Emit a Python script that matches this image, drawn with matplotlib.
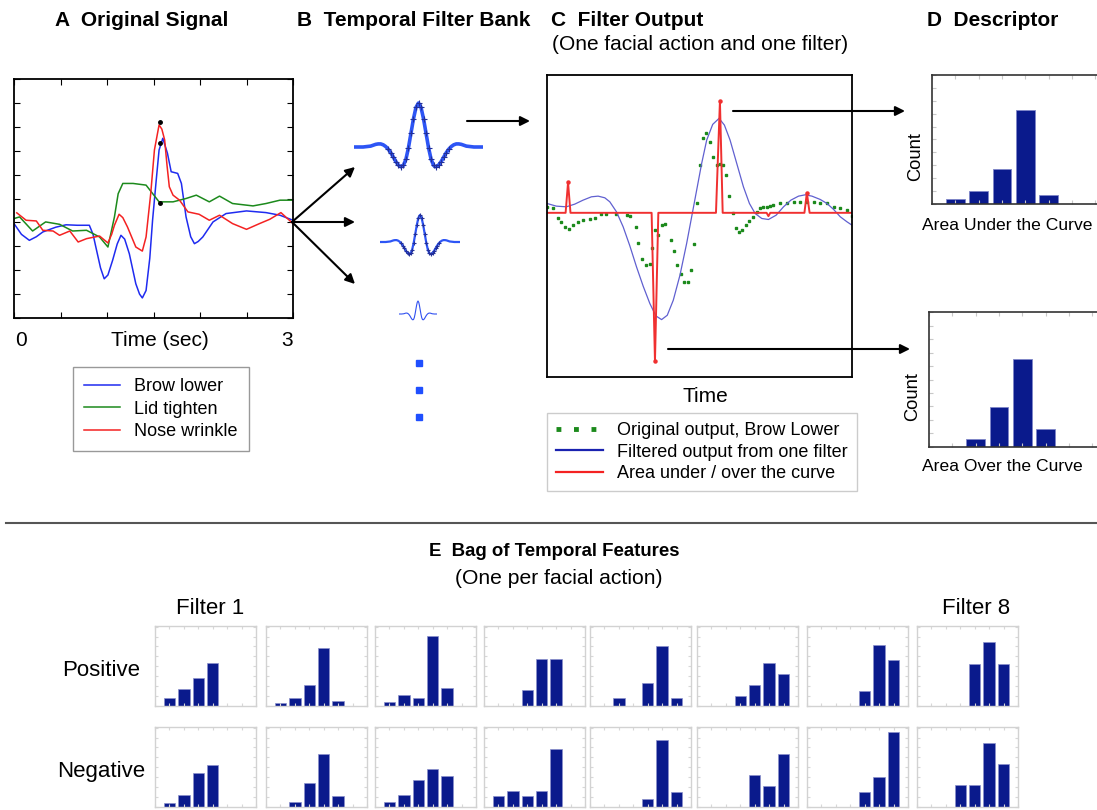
import matplotlib
matplotlib.use("Agg")
import matplotlib.pyplot as plt
from matplotlib.lines import Line2D
from matplotlib.patches import FancyArrowPatch

plt.rcParams['font.family'] = ['Liberation Sans', 'DejaVu Sans']

W, H = 1097, 810

# ---- A: original signal (time in sec, arbitrary units) ----
brow_t = [0.0, 0.08, 0.165, 0.24, 0.31, 0.45, 0.56, 0.68, 0.81, 0.85, 0.88, 0.93, 0.97, 1.01, 1.06,
          1.11, 1.15, 1.19, 1.24, 1.31, 1.35, 1.38, 1.42, 1.46, 1.49, 1.53, 1.56, 1.60, 1.65, 1.69,
          1.76, 1.80, 1.85, 1.90, 1.94, 1.98, 2.03, 2.14, 2.28, 2.50, 2.71, 2.86, 3.0]
brow_y = [3.95, 3.5, 3.25, 3.4, 3.6, 3.8, 3.9, 3.88, 3.88, 3.5, 2.97, 2.1, 1.64, 1.8, 2.41,
          3.1, 3.46, 3.3, 2.69, 1.43, 1.0, 0.84, 1.15, 2.5, 4.09, 5.8, 7.03, 7.52, 6.89, 6.12,
          6.05, 5.63, 4.23, 3.4, 3.11, 3.2, 3.39, 4.02, 4.37, 4.48, 4.41, 4.30, 4.09]
lid_t = [0.0, 0.06, 0.2, 0.34, 0.49, 0.63, 0.78, 0.92, 1.01, 1.08, 1.12, 1.17, 1.28, 1.42, 1.49,
         1.56, 1.71, 1.85, 1.96, 2.10, 2.21, 2.35, 2.57, 2.71, 2.86, 3.0]
lid_y = [4.16, 4.23, 3.64, 4.02, 3.92, 3.64, 3.67, 3.39, 2.97, 4.23, 5.2, 5.63, 5.63, 5.56, 5.21,
         4.86, 4.86, 5.0, 5.14, 4.86, 5.1, 4.79, 4.69, 4.79, 4.93, 4.93]
nose_t = [0.03, 0.13, 0.24, 0.31, 0.42, 0.49, 0.60, 0.69, 0.78, 0.92, 1.01, 1.05, 1.08, 1.13, 1.17,
          1.22, 1.31, 1.38, 1.42, 1.47, 1.51, 1.56, 1.59, 1.62, 1.645, 1.67, 1.71, 1.78, 1.87, 1.99,
          2.10, 2.21, 2.35, 2.50, 2.64, 2.75, 2.87, 3.0]
nose_y = [4.40, 4.09, 4.06, 3.67, 3.64, 3.46, 3.64, 3.18, 3.32, 3.43, 3.14, 3.5, 3.88, 4.34, 4.2,
          3.81, 2.97, 2.80, 3.39, 5.2, 7.03, 8.08, 7.9, 7.45, 6.4, 5.49, 5.14, 4.93, 4.44, 4.34,
          4.09, 4.30, 3.95, 3.71, 3.95, 4.13, 4.41, 3.95]
peak_t = [1.57, 1.57, 1.57]
peak_y = [8.18, 7.31, 4.83]
signal_names = ['Brow lower', 'Lid tighten', 'Nose wrinkle']

# ---- B: temporal filter shape ----
filt_t = [-6.4, -5.5, -4.75, -4.5, -4.25, -4.0, -3.75, -3.5, -3.25, -3.0, -2.75, -2.5, -2.25, -2.0,
          -1.75, -1.5, -1.25, -1.0, -0.75, -0.5, -0.25, 0.0, 0.25, 0.5, 0.75, 1.0, 1.25, 1.5, 1.75,
          2.0, 2.25, 2.5, 2.75, 3.0, 3.25, 3.5, 3.75, 4.0, 4.25, 4.5, 4.75, 5.5, 6.4]
filt_v = [0.0, 0.0, 0.02, 0.04, 0.06, 0.07, 0.07, 0.05, 0.01, -0.05, -0.13, -0.23, -0.33, -0.41,
          -0.45, -0.42, -0.28, -0.02, 0.31, 0.64, 0.90, 1.0, 0.90, 0.64, 0.31, -0.02, -0.28, -0.42,
          -0.45, -0.41, -0.33, -0.23, -0.13, -0.05, 0.01, 0.05, 0.07, 0.07, 0.06, 0.04, 0.02, 0.0, 0.0]
more_rows = [1, 2, 3]

# ---- C: filter output ----
filt_out_t = [0, 3.07, 6.35, 9.09, 11.83, 14.57, 16.76, 18.95, 20.59, 22.78, 24.97, 27.16, 29.35,
              31.54, 33.73, 35.71, 37.57, 39.43, 41.40, 43.59, 45.78, 47.43, 49.07, 50.71, 52.36,
              54.33, 56.41, 58.16, 60.02, 62.21, 64.40, 66.37, 68.24, 70.43, 72.62, 75.14, 77.55,
              79.96, 82.47, 84.67, 86.86, 89.59, 91.79, 93.98, 96.17, 98.36, 100]
filt_out_y = [0.28, 0.20, 0.18, 0.26, 0.38, 0.48, 0.50, 0.45, 0.33, 0.03, -0.42, -0.99, -1.62,
              -2.20, -2.72, -3.09, -3.20, -3.07, -2.62, -1.87, -0.92, -0.12, 0.68, 1.48, 2.18,
              2.65, 2.83, 2.63, 2.18, 1.48, 0.78, 0.28, -0.02, -0.17, -0.20, -0.07, 0.18,
              0.38, 0.50, 0.54, 0.50, 0.40, 0.28, 0.10, -0.12, -0.27, -0.37]
orig_t = [0, 1.97, 3.61, 4.71, 5.8, 7.23, 8.54, 10.19, 11.83, 14.02, 15.66, 17.85, 19.5, 22.78,
          26.07, 27.16, 29.13, 29.9, 31.0, 32.42, 33.73, 34.5, 35.38, 36.47, 37.57, 38.66, 40.64,
          41.73, 42.72, 43.81, 44.91, 46.11, 47.21, 48.19, 49.29, 50.16, 51.26, 52.14, 53.45, 54.55,
          55.64, 56.74, 57.83, 58.71, 59.80, 60.90, 61.99, 62.98, 64.07, 65.17, 66.37, 67.69, 68.78,
          69.88, 70.98, 72.07, 73.17, 74.26, 76.45, 78.64, 80.83, 83.02, 85.21, 87.4, 89.59, 91.79,
          93.98, 96.17, 98.36, 100]
orig_y = [0.18, 0.13, -0.15, -0.29, -0.42, -0.47, -0.37, -0.27, -0.22, -0.18, -0.15, -0.05, -0.05,
          -0.05, -0.07, -0.09, -0.42, -0.9, -1.37, -1.55, -1.52, -1.04, -0.52, -0.67, -0.37, -0.34,
          -0.82, -1.14, -1.55, -1.82, -2.07, -2.07, -1.70, -0.92, 0.30, 1.43, 2.23, 2.40, 2.13, 1.68,
          1.43, 1.45, 1.43, 1.13, 0.51, -0.02, -0.44, -0.57, -0.50, -0.37, -0.25, -0.14, 0.03, 0.13,
          0.16, 0.18, 0.2, 0.23, 0.28, 0.28, 0.33, 0.31, 0.31, 0.31, 0.28, 0.28, 0.18, 0.13, 0.08, -0.09]
area_t = [0, 6.1, 6.9, 7.7, 34.3, 35.4, 36.5, 55.4, 56.7, 57.6, 72.0, 72.6, 73.2, 84.4, 85.2, 86.1, 100]
area_y = [0, 0, 0.91, 0, 0, -4.45, 0, 0, 3.35, 0, 0, -0.1, 0, 0, 0.6, 0, 0]
c_labels = ['Original output, Brow Lower', 'Filtered output from one filter',
            'Area under / over the curve']

# ---- D: descriptor histograms ----
under_bins = [1, 2, 3, 4, 5]
under_count = [1.4, 4.0, 10.7, 29.3, 2.8]
over_bins = [2, 3, 4, 5]
over_count = [2.5, 11.9, 26.2, 5.3]

# ---- E: bag of temporal features (8 filters, 6 bins each) ----
bins = [1, 2, 3, 4, 5, 6]
positive = [
    [2.3, 5.1, 8.5, 13.0, 0, 0],
    [0.8, 2.4, 6.5, 17.6, 1.6, 0],
    [1.2, 3.3, 2.3, 21.1, 5.5, 0],
    [0, 0, 4.8, 14.1, 14.1, 0],
    [0, 2.3, 0, 7.0, 18.3, 2.3],
    [0, 0, 3.1, 6.4, 12.9, 9.7],
    [0, 0, 0, 4.6, 18.4, 13.8],
    [0, 0, 0, 12.8, 19.3, 12.8],
]
negative = [
    [1.2, 3.5, 10.3, 12.6, 0, 0],
    [0, 1.6, 7.3, 16.1, 3.3, 0],
    [1.4, 3.7, 8.2, 11.5, 9.4, 0],
    [3.3, 4.9, 3.3, 4.9, 17.4, 0],
    [0, 0, 0, 2.3, 20.2, 4.5],
    [0, 0, 0, 9.6, 6.5, 16.0],
    [0, 0, 0, 4.4, 9.0, 22.7],
    [0, 0, 6.6, 6.6, 19.3, 12.9],
]
row_names = ['Positive', 'Negative']

BLUE = '#1f2bf0'
GREEN = '#1c8a1c'
RED = '#f42222'
NAVY = '#0a1a8c'


def px(l, t, r, b):
    return [l / W, 1 - b / H, (r - l) / W, (b - t) / H]


def fxy(x, y):
    return (x / W, 1 - y / H)


def txt(x, y, s, **kw):
    kw.setdefault('fontsize', 15)
    kw.setdefault('va', 'center')
    fig.text(x / W, 1 - y / H, s, **kw)


def arrow(x0, y0, x1, y1):
    fig.add_artist(FancyArrowPatch(fxy(x0, y0), fxy(x1, y1), transform=fig.transFigure,
                                   arrowstyle='-|>', mutation_scale=14, lw=1.5, color='black',
                                   shrinkA=0, shrinkB=0))


fig = plt.figure(figsize=(W / 100, H / 100), dpi=100)

# titles
txt(55, 21, 'A  Original Signal', fontweight='bold')
txt(297, 21, 'B  Temporal Filter Bank', fontweight='bold')
txt(551, 21, 'C  Filter Output', fontweight='bold')
txt(552, 45, '(One facial action and one filter)', fontsize=15)
txt(927, 21, 'D  Descriptor', fontweight='bold')

# panel A
axA = fig.add_axes(px(14, 79, 293, 318))
axA.plot(brow_t, brow_y, color=BLUE, lw=1.1, label=signal_names[0])
axA.plot(lid_t, lid_y, color=GREEN, lw=1.1, label=signal_names[1])
axA.plot(nose_t, nose_y, color=RED, lw=1.1, label=signal_names[2])
axA.plot(peak_t, peak_y, 'o', color='black', ms=2.5, zorder=5)
axA.set_xlim(0, 3)
axA.set_ylim(0, 10)
axA.set_xticks([0.5 * i for i in range(7)])
axA.set_yticks(range(11))
axA.tick_params(direction='in', length=4, top=True, right=True,
                labelbottom=False, labelleft=False)
for s in axA.spines.values():
    s.set_linewidth(1.3)
txt(21, 341, '0', ha='center')
txt(160, 341, 'Time (sec)', ha='center')
txt(287, 341, '3', ha='center')
fig.legend(*axA.get_legend_handles_labels(), loc='upper left', bbox_to_anchor=fxy(73, 367),
           fontsize=13, frameon=True, fancybox=False, edgecolor='#999999', framealpha=1,
           handlelength=2.0, labelspacing=0.32, borderpad=0.6, handletextpad=0.8,
           borderaxespad=0)

# panel B: three filter scales
filter_boxes = [(354, 483, 147, 44, 2.6, 5), (380, 460, 242, 27, 1.6, 3.5), (399, 437, 314, 13, 0.8, 0)]
for l, r, base, amp, lw, ms in filter_boxes:
    ax = fig.add_axes(px(l, base - 1.1 * amp, r, base + 0.6 * amp))
    if ms:
        ax.plot(filt_t, filt_v, color='#2d55f5', lw=lw, marker='+', ms=ms, mec='#23309a',
                mew=0.8, markevery=slice(9, 34))
    else:
        ax.plot(filt_t, filt_v, color='#3050f0', lw=lw)
    ax.set_xlim(-6.4, 6.4)
    ax.set_ylim(-0.6, 1.1)
    ax.axis('off')
axDots = fig.add_axes(px(409, 349.5, 429, 430.5))
axDots.plot([0, 0, 0], more_rows, 's', color='#1f4fff', ms=4.5)
axDots.set_xlim(-1, 1)
axDots.set_ylim(3.5, 0.5)
axDots.axis('off')

arrow(292, 222, 355, 167)
arrow(292, 222, 355, 222)
arrow(292, 222, 355, 284)
arrow(467, 121, 530, 121)

# panel C
axC = fig.add_axes(px(547, 75, 852, 377))
axC.plot(orig_t, orig_y, 's', color=GREEN, ms=1.8, label=c_labels[0])
axC.plot(filt_out_t, filt_out_y, color='#6060d0', lw=0.9, label=c_labels[1])
axC.plot(area_t, area_y, color='#f03030', lw=1.4, marker='o', ms=2.2,
         markevery=[2, 5, 8, 14], label=c_labels[2])
axC.set_xlim(0, 100)
axC.set_ylim(-4.92, 4.13)
axC.set_xticks([])
axC.set_yticks([])
for s in axC.spines.values():
    s.set_linewidth(1.3)
txt(705, 397, 'Time', ha='center')
c_handles = [Line2D([], [], color=GREEN, lw=3.5, linestyle=(0, (1, 2.6))),
             Line2D([], [], color='#1a22b0', lw=1.6),
             Line2D([], [], color=RED, lw=1.6)]
fig.legend(c_handles, c_labels, loc='upper left', bbox_to_anchor=fxy(547, 413),
           fontsize=13, frameon=True, fancybox=False, edgecolor='#cccccc', framealpha=1,
           handlelength=2.6, labelspacing=0.25, borderpad=0.5, handletextpad=0.8,
           borderaxespad=0)

arrow(733, 111, 905, 111)
arrow(668, 349, 910, 349)

# panel D
for (t, b, l), xs, ys, lab, cy, ly in [((75, 204, 932), under_bins, under_count,
                                        'Area Under the Curve', 157, 225),
                                       ((312, 447, 929), over_bins, over_count,
                                        'Area Over the Curve', 397, 467)]:
    ax = fig.add_axes(px(l, t, l + 23.3 * 8, b))
    ax.bar(xs, ys, width=0.8, color=NAVY, edgecolor='#7f86c8', lw=0.6)
    ax.set_xlim(0, 8)
    ax.set_ylim(0, 40)
    ax.set_xticks(range(9))
    ax.set_yticks(range(0, 41, 4))
    ax.tick_params(direction='in', length=3, color='#c8c8c8', top=True, right=True,
                   labelbottom=False, labelleft=False)
    for s in ax.spines.values():
        s.set_linewidth(1.2)
        s.set_color('#333333')
    txt(l - 16, cy, 'Count', rotation=90, ha='center', fontsize=13.2)
    txt(922, ly, lab, fontsize=12.6)

# separator
fig.add_artist(Line2D([6 / W, 1], [1 - 523 / H, 1 - 523 / H], color='#555555', lw=1.5))

# panel E
txt(429, 552, 'E  Bag of Temporal Features', fontweight='bold', fontsize=13.4)
txt(455, 578, '(One per facial action)', fontsize=15.2)
txt(210, 609, 'Filter 1', ha='center', fontsize=16)
txt(976, 609, 'Filter 8', ha='center', fontsize=16)
col_left = [155, 266, 375, 484, 590, 697, 807, 917]
for r, (rows, top) in enumerate([(positive, 626), (negative, 727)]):
    txt(101, top + 45, row_names[r], ha='center', fontsize=16)
    for i, counts in enumerate(rows):
        ax = fig.add_axes(px(col_left[i], top, col_left[i] + 101, top + 80))
        xs = [b for b, c in zip(bins, counts) if c > 0]
        ys = [c for c in counts if c > 0]
        ax.bar(xs, ys, width=0.8, color=NAVY, edgecolor='#8a90cc', lw=0.5)
        ax.set_xlim(0, 7)
        ax.set_ylim(0, 24.2)
        ax.set_xticks(range(8))
        ax.set_yticks(range(0, 25, 3))
        ax.tick_params(direction='in', length=2, color='#d8d8d8', top=True, right=True,
                       labelbottom=False, labelleft=False)
        for s in ax.spines.values():
            s.set_color('#d2d2d2')
            s.set_linewidth(1.0)

fig.savefig('out.png', dpi=100)
